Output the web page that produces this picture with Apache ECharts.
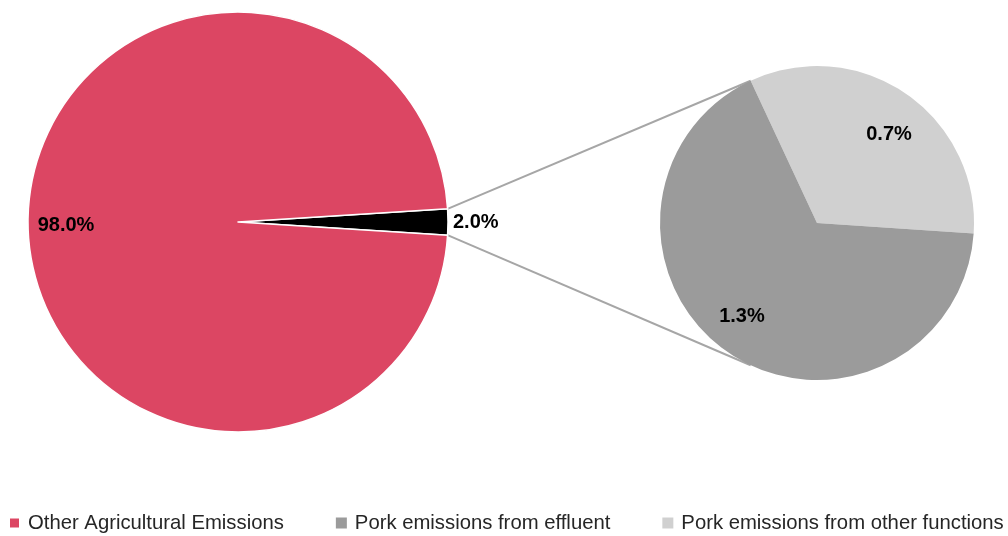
<!DOCTYPE html>
<html>
<head>
<meta charset="utf-8">
<script src="https://cdn.jsdelivr.net/npm/echarts@6/dist/echarts.min.js"></script>
<style>
  html, body { margin: 0; padding: 0; background: #fff; }
  #chart { width: 1008px; height: 536px; }
</style>
</head>
<body>
<div id="chart"></div>
<script>
  // main pie: first item is the exploded share that feeds the small pie
  const mainNames = ['Pork emissions', 'Other Agricultural Emissions']
  const mainValues = [2.0, 98.0]
  // secondary pie (split of the 2.0%)
  const subNames = ['Pork emissions from other functions', 'Pork emissions from effluent']
  const subValues = [0.66, 1.34]
  const legendNames = ['Other Agricultural Emissions', 'Pork emissions from effluent', 'Pork emissions from other functions']

  const mainColors = ['#000000', '#dc4663']
  const subColors = ['#d0d0d0', '#9b9b9b']

  // geometry
  const mainCenter = [238, 222]
  const mainRadius = 210
  const subCenter = [817, 223]
  const subRadius = 157
  const connectAngle = 115 // where connector lines meet the small pie (deg)

  const fontFamily = '"Liberation Sans", Arial, sans-serif'

  const mainTotal = mainValues.reduce((a, b) => a + b, 0)
  const halfSpan = (mainValues[0] / mainTotal) * 180 // half of exploded wedge angle
  const rad = (d) => (d * Math.PI) / 180

  const pt = (c, r, deg) => [c[0] + r * Math.cos(rad(deg)), c[1] - r * Math.sin(rad(deg))]
  const topA = pt(mainCenter, mainRadius, halfSpan)
  const botA = pt(mainCenter, mainRadius, -halfSpan)
  const topB = pt(subCenter, subRadius, connectAngle)
  const botB = pt(subCenter, subRadius, -connectAngle)

  const pctLabel = (p) => p.value.toFixed(1) + '%'

  // small label nudges (Excel-like "best fit" placement)
  const mainLabelShift = [[0, 0], [-64, 3]]
  const subLabelShift = [[26, -21], [-29, 26]]

  const chart = echarts.init(document.getElementById('chart'))
  chart.setOption({
    animation: false,
    legend: {
      data: legendNames,
      left: 3,
      top: 508,
      icon: 'rect',
      itemWidth: 11,
      itemHeight: 11,
      itemGap: 52,
      textStyle: { fontFamily, fontSize: 20.3, color: '#262626', padding: [0, 0, 0, 3] }
    },
    graphic: [
      {
        type: 'line',
        shape: { x1: topA[0], y1: topA[1], x2: topB[0], y2: topB[1] },
        style: { stroke: '#a6a6a6', lineWidth: 2 },
        z: 0
      },
      {
        type: 'line',
        shape: { x1: botA[0], y1: botA[1], x2: botB[0], y2: botB[1] },
        style: { stroke: '#a6a6a6', lineWidth: 2 },
        z: 0
      }
    ],
    series: [
      {
        type: 'pie',
        center: mainCenter,
        radius: [0, mainRadius],
        startAngle: halfSpan,
        clockwise: true,
        avoidLabelOverlap: false,
        silent: true,
        itemStyle: { borderColor: '#ffffff', borderWidth: 1.5 },
        data: mainNames.map((n, i) => ({
          name: n,
          value: mainValues[i],
          itemStyle: { color: mainColors[i] },
          label: i === 0 ? { position: 'outside', distanceToLabelLine: 5 } : { position: 'inside' }
        })),
        label: {
          show: true,
          formatter: pctLabel,
          fontFamily,
          fontSize: 20,
          fontWeight: 'bold',
          color: '#000'
        },
        labelLine: { show: false, length: 0, length2: 0 },
        labelLayout: (p) => ({ dx: mainLabelShift[p.dataIndex][0], dy: mainLabelShift[p.dataIndex][1] })
      },
      {
        type: 'pie',
        center: subCenter,
        radius: [0, subRadius],
        startAngle: connectAngle,
        clockwise: true,
        avoidLabelOverlap: false,
        silent: true,
        data: subNames.map((n, i) => ({
          name: n,
          value: subValues[i],
          itemStyle: { color: subColors[i] }
        })),
        label: {
          show: true,
          position: 'inside',
          formatter: pctLabel,
          fontFamily,
          fontSize: 20,
          fontWeight: 'bold',
          color: '#000'
        },
        labelLine: { show: false },
        labelLayout: (p) => ({ dx: subLabelShift[p.dataIndex][0], dy: subLabelShift[p.dataIndex][1] })
      }
    ]
  })
</script>
</body>
</html>
